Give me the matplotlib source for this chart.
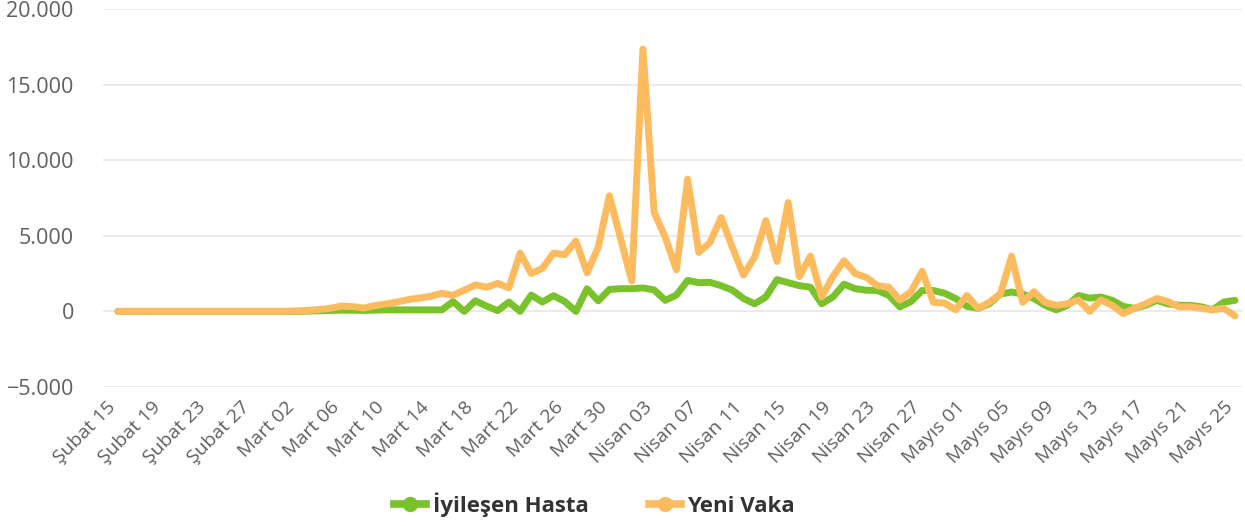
"""Daily new cases vs. recovered patients, Highcharts-style line chart."""

import datetime as dt

import matplotlib

matplotlib.use("Agg")
import matplotlib.pyplot as plt  # noqa: E402
from matplotlib.lines import Line2D  # noqa: E402
from matplotlib.ticker import FixedLocator, FuncFormatter  # noqa: E402
from matplotlib.transforms import ScaledTranslation  # noqa: E402

MONTHS_TR = {2: "Şubat", 3: "Mart", 4: "Nisan", 5: "Mayıs"}

start_date = dt.date(2020, 2, 15)

# Yeni Vaka (new cases), one value per day from Şubat 15
new_cases = [
    0, 0, 0, 0, 0, 0, 0, 0, 0, 0, 0, 0, 0, 0, 0, 0,
    30, 60, 120, 200, 350, 320, 220, 380, 500, 620, 780, 880, 1000, 1200,
    1060, 1400, 1750, 1600, 1850, 1550, 3850, 2500, 2850, 3850, 3750, 4650,
    2550, 4250, 7650, 4800, 2000, 17350, 6550, 4900, 2750, 8750, 3900, 4550,
    6200, 4250, 2400, 3600, 6000, 3300, 7200, 2300, 3650, 950, 2300, 3350,
    2500, 2250, 1700, 1600, 750, 1300, 2650, 600, 550, 100, 1050, 200, 600,
    1150, 3650, 600, 1300, 600, 400, 500, 750, 0, 750, 400, -150, 200, 500,
    850, 650, 300, 300, 200, 100, 200, -300,
]

# İyileşen Hasta (recovered), same days
recovered = [
    0, 0, 0, 0, 0, 0, 0, 0, 0, 0, 0, 0, 0, 0, 0, 0, 0,
    20, 40, 60, 80, 80, 60, 80, 100, 100, 100, 100, 100, 100,
    650, 0, 700, 350, 50, 620, 0, 1080, 620, 1040, 650, 0, 1500, 700, 1450,
    1500, 1500, 1550, 1420, 730, 1080, 2050, 1900, 1920, 1700, 1400, 850,
    500, 950, 2100, 1900, 1700, 1600, 500, 950, 1800, 1500, 1400, 1380, 1060,
    300, 650, 1380, 1380, 1200, 850, 330, 200, 500, 1150, 1280, 1150, 850,
    400, 100, 400, 1050, 880, 950, 730, 330, 200, 400, 730, 500, 400, 400,
    300, 100, 620, 730,
]

y_ticks = [-5000, 0, 5000, 10000, 15000, 20000]

days = list(range(len(new_cases)))
dates = [start_date + dt.timedelta(days=d) for d in days]
tick_days = days[::4]
tick_labels = [f"{MONTHS_TR[dates[d].month]} {dates[d].day:02d}" for d in tick_days]

GREEN = "#7AC22C"
ORANGE = "#FDBB5F"
FONT = ["Open Sans", "DejaVu Sans"]

plt.rcParams["font.family"] = FONT

fig = plt.figure(figsize=(12.45, 5.26), dpi=100)
ax = fig.add_axes([0.0827, 0.2643, 0.9149, 0.7186])

ax.plot(days, recovered, color=GREEN, lw=5, solid_joinstyle="round",
        solid_capstyle="round", zorder=3)
ax.plot(days, new_cases, color=ORANGE, lw=5, solid_joinstyle="round",
        solid_capstyle="round", zorder=4)

ax.set_xlim(-1.34, 100.63)
ax.set_ylim(-5000, 20000)

ax.yaxis.set_major_locator(FixedLocator(y_ticks))
ax.yaxis.set_major_formatter(
    FuncFormatter(lambda v, _: f"{int(v):,}".replace(",", ".").replace("-", "\u2212"))
)
ax.grid(axis="y", color="#e6e6e6", lw=1.2, zorder=0)
ax.tick_params(axis="y", length=0, pad=21, labelsize=15.5, labelcolor="#606060")

ax.set_xticks(tick_days)
ax.set_xticklabels(tick_labels, rotation=45, ha="right", va="top",
                   rotation_mode="anchor", fontsize=14, color="#606060")
ax.tick_params(axis="x", length=0, pad=8)
# nudge rotated labels left so their ends sit at the tick like the original
shift = ScaledTranslation(-11 / 100, 0, fig.dpi_scale_trans)
for lbl in ax.get_xticklabels():
    lbl.set_transform(lbl.get_transform() + shift)

for side in ("top", "right", "left", "bottom"):
    ax.spines[side].set_visible(False)

handles = [
    Line2D([], [], color=GREEN, lw=5.5, marker="o", markersize=10),
    Line2D([], [], color=ORANGE, lw=5.5, marker="o", markersize=10),
]
fig.legend(handles, ["İyileşen Hasta", "Yeni Vaka"], loc="center",
           bbox_to_anchor=(0.4775, 0.04), ncol=2, frameon=False,
           handlelength=1.45, columnspacing=2.7, handletextpad=0.3,
           prop={"family": FONT, "weight": "bold", "size": 16},
           labelcolor="#333333")

fig.savefig("out.png")
plt.close(fig)
